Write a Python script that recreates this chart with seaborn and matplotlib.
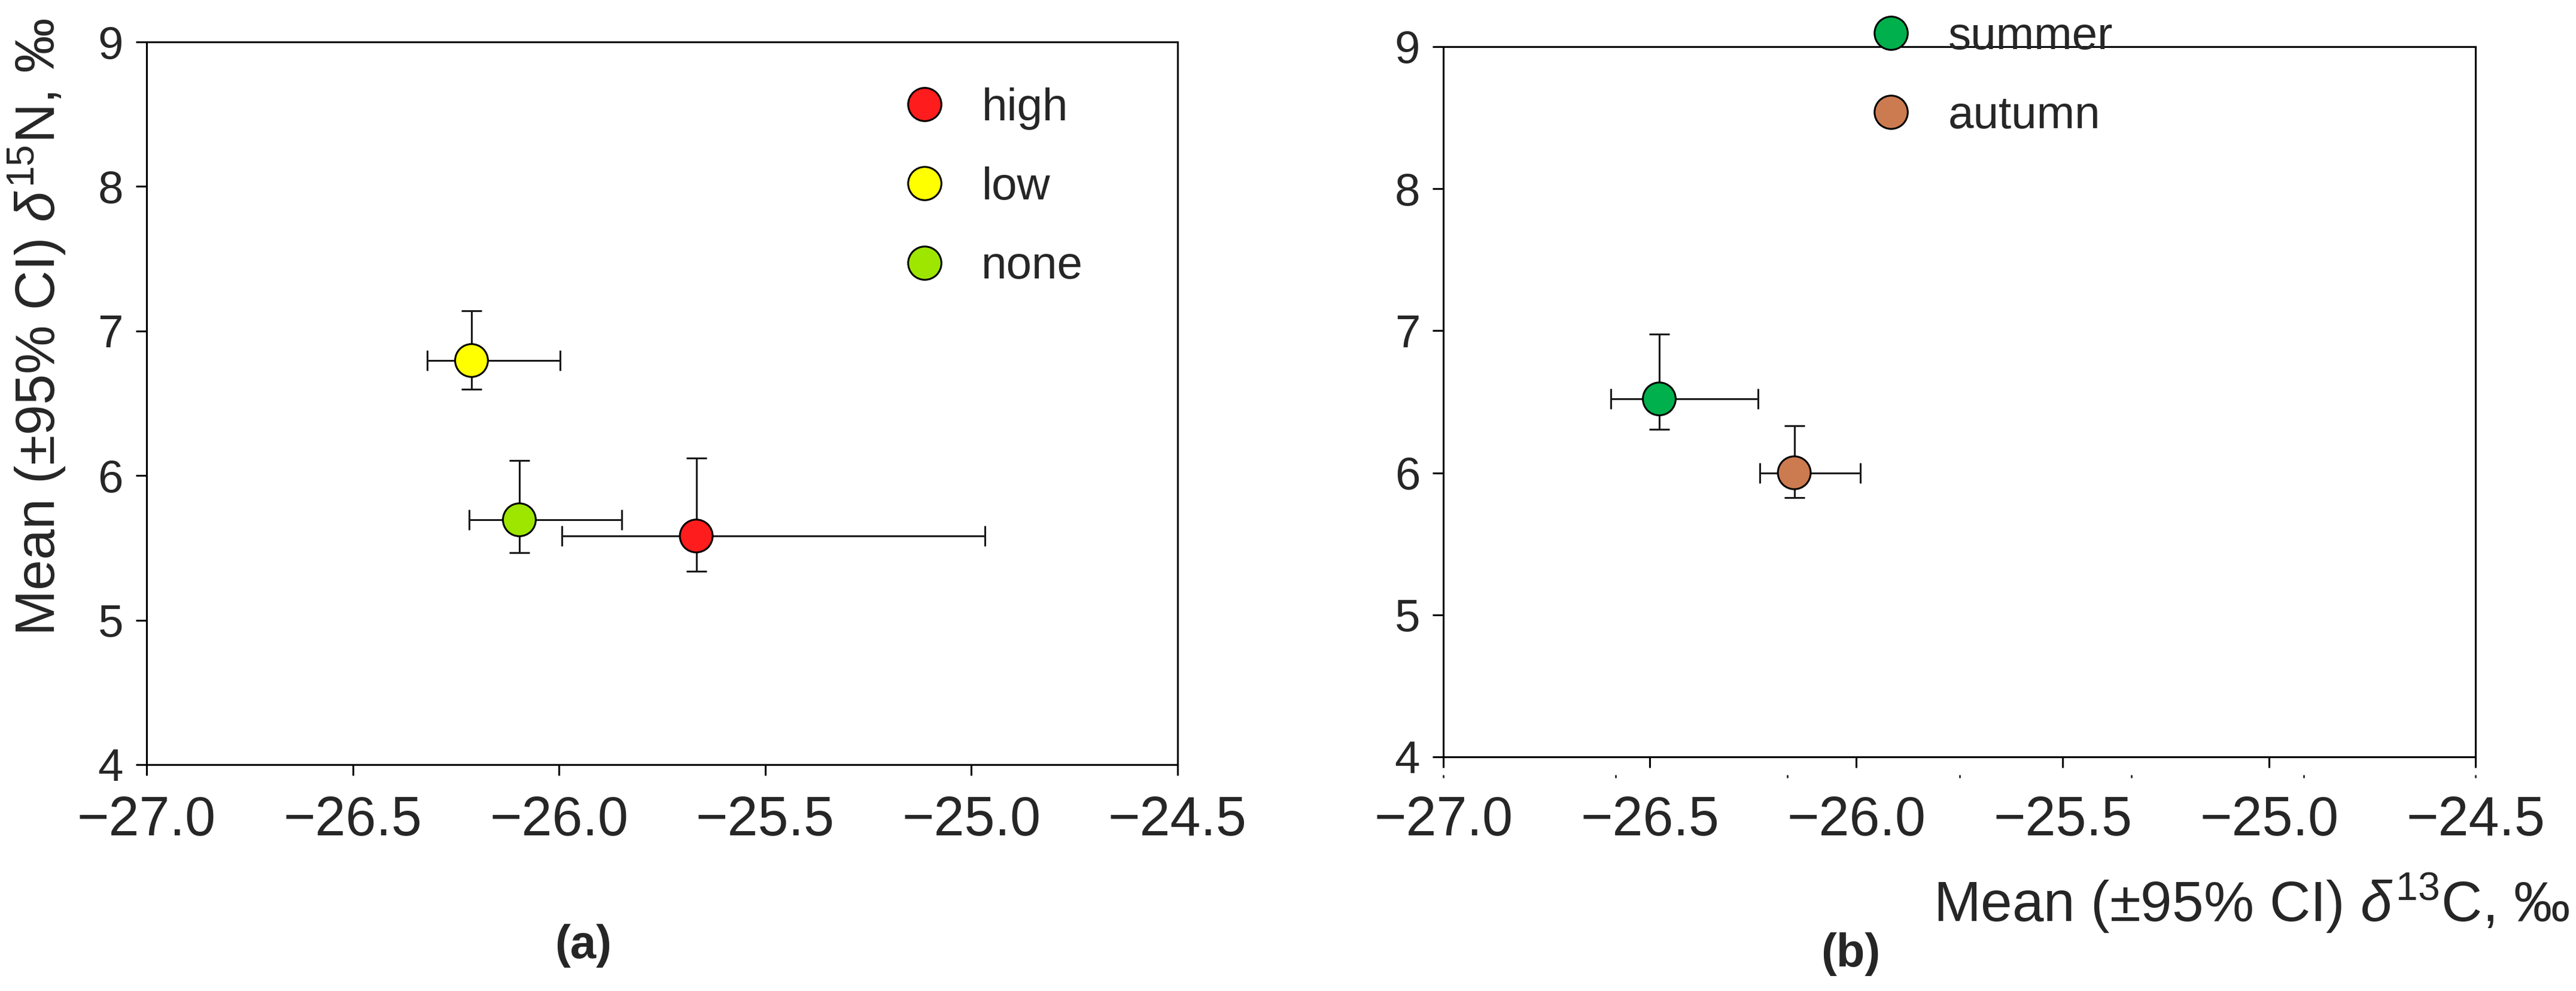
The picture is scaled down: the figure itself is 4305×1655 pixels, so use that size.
import numpy as np
import pandas as pd
import matplotlib
matplotlib.use("Agg")
import matplotlib.pyplot as plt
from matplotlib.ticker import FuncFormatter
import seaborn as sns

# panel (a): grazing intensity
intensity = ["high", "low", "none"]
a_c13 = [-25.667, -26.212, -26.096]
a_c13_lo = [-25.993, -26.320, -26.218]
a_c13_hi = [-24.967, -25.997, -25.848]
a_n15 = [5.582, 6.796, 5.694]
a_n15_lo = [5.338, 6.597, 5.466]
a_n15_hi = [6.121, 7.140, 6.104]
a_colors = ["#ff1c1c", "#ffff00", "#9ee600"]

# panel (b): season
season = ["summer", "autumn"]
b_c13 = [-26.477, -26.150]
b_c13_lo = [-26.594, -26.233]
b_c13_hi = [-26.238, -25.990]
b_n15 = [6.52, 6.00]
b_n15_lo = [6.307, 5.825]
b_n15_hi = [6.975, 6.332]
b_colors = ["#00b04c", "#cc7a50"]

x_ticks = [-27.0, -26.5, -26.0, -25.5, -25.0, -24.5]
y_ticks = [4, 5, 6, 7, 8, 9]

sns.set_style("ticks")
plt.rcParams["font.family"] = ["Liberation Sans", "DejaVu Sans"]
plt.rcParams["mathtext.fontset"] = "custom"
plt.rcParams["mathtext.rm"] = "Liberation Sans"
plt.rcParams["mathtext.it"] = "Liberation Sans:italic"
plt.rcParams["axes.linewidth"] = 2.2
plt.rcParams["axes.edgecolor"] = "black"

LW = 2.2


def draw_panel(ax, groups, c13, c13_lo, c13_hi, n15, n15_lo, n15_hi, colors):
    df = pd.DataFrame({"group": groups, "c13": c13, "c13_lo": c13_lo, "c13_hi": c13_hi,
                       "n15": n15, "n15_lo": n15_lo, "n15_hi": n15_hi})
    xerr = np.array([df["c13"] - df["c13_lo"], df["c13_hi"] - df["c13"]])
    yerr = np.array([df["n15"] - df["n15_lo"], df["n15_hi"] - df["n15"]])
    ax.errorbar(df["c13"], df["n15"], xerr=xerr, yerr=yerr, fmt="none", ecolor="#1a1a1a",
                elinewidth=LW, capsize=12, capthick=LW, zorder=2)
    sns.scatterplot(data=df, x="c13", y="n15", hue="group", hue_order=groups,
                    palette=dict(zip(groups, colors)), s=1560, edgecolor="black",
                    linewidth=LW, zorder=3, ax=ax)
    ax.set_xlim(-27, -24.5)
    ax.set_ylim(4, 9)
    ax.set_xticks(x_ticks)
    ax.set_yticks(y_ticks)
    ax.xaxis.set_major_formatter(FuncFormatter(lambda v, _: f"{v:.1f}".replace("-", "\u2212")))
    ax.tick_params(axis="both", direction="out", length=13, width=LW, color="black")
    ax.tick_params(axis="y", labelsize=55, pad=15)
    ax.tick_params(axis="x", labelsize=66)
    for sp in ax.spines.values():
        sp.set_visible(True)
        sp.set_linewidth(LW)
        sp.set_color("black")
    ax.set_xlabel("")
    ax.set_ylabel("")
    return ax


fig = plt.figure(figsize=(43.05, 16.55), dpi=100)
axA = fig.add_axes([0.0569, 0.2284, 0.4002, 0.7293])
axB = fig.add_axes([0.5603, 0.2363, 0.4007, 0.7166])

draw_panel(axA, intensity, a_c13, a_c13_lo, a_c13_hi, a_n15, a_n15_lo, a_n15_hi, a_colors)
draw_panel(axB, season, b_c13, b_c13_lo, b_c13_hi, b_n15, b_n15_lo, b_n15_hi, b_colors)

axA.tick_params(axis="x", pad=24)
axB.tick_params(axis="x", pad=33)

# small dotted ticks under panel (b)
sec = axB.secondary_xaxis(-0.025)
sec.set_xticks(np.linspace(-27, -24.5, 7))
sec.tick_params(axis="x", direction="out", length=3.5, width=2, labelbottom=False)
sec.spines["bottom"].set_visible(False)

axA.set_ylabel(r"Mean (±95% CI) $\delta^{15}$N, ‰", fontsize=66)
axA.yaxis.set_label_coords(-0.0766, 0.605)

axB.set_xlabel(r"Mean (±95% CI) $\delta^{13}$C, ‰", fontsize=68)
axB.xaxis.set_label_coords(0.7832, -0.2057)
axB.xaxis.label.set_va("center")

for ax, anchor in [(axA, (0.7324, 0.9370)), (axB, (0.4116, 1.043))]:
    sns.move_legend(ax, "upper left", bbox_to_anchor=anchor, frameon=False, title=None,
                    fontsize=55, handlelength=1.0, handletextpad=0.75, labelspacing=0.8,
                    borderpad=0, borderaxespad=0)
    for h in ax.get_legend().legend_handles:
        h.set_markersize(40)
        h.set_markeredgecolor("black")
        h.set_markeredgewidth(LW)

fig.text(975 / 4305, 1 - 1579 / 1655, "(a)", fontsize=56, fontweight="bold", ha="center", va="center")
fig.text(3093 / 4305, 1 - 1593 / 1655, "(b)", fontsize=56, fontweight="bold", ha="center", va="center")

fig.savefig("out.png", dpi=100)
